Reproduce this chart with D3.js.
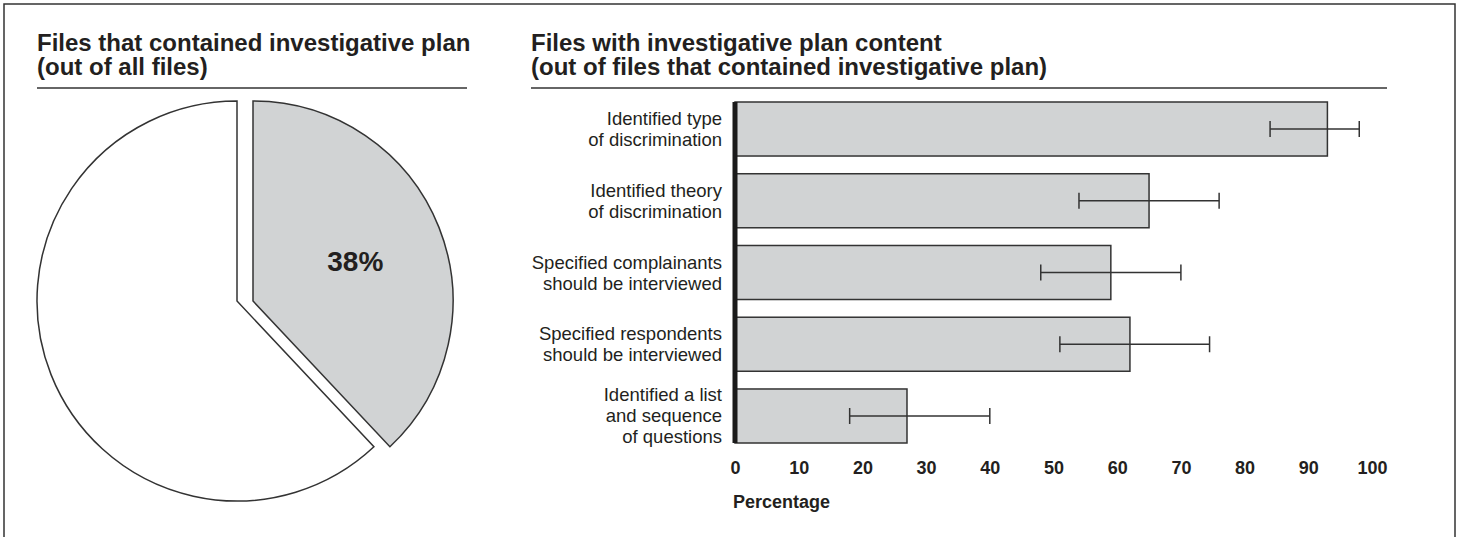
<!DOCTYPE html>
<html>
<head>
<meta charset="utf-8">
<script src="https://cdn.jsdelivr.net/npm/d3@7"></script>
<style>
  html, body { margin: 0; padding: 0; background: #fff; }
  svg { display: block; font-family: "Liberation Sans", Arial, Helvetica, sans-serif; }
</style>
</head>
<body>
<svg id="chart" width="1459" height="537"></svg>
<script>
// ---- data ----
const pieCategories = ["Contained investigative plan", "Did not contain investigative plan"];
const pieValues = [38, 62];
const pieLabel = "38%";

const categories = [
  "Identified type\nof discrimination",
  "Identified theory\nof discrimination",
  "Specified complainants\nshould be interviewed",
  "Specified respondents\nshould be interviewed",
  "Identified a list\nand sequence\nof questions"
];
const values = [93, 65, 59, 62, 27];
const errLow = [84, 54, 48, 51, 18];
const errHigh = [98, 76, 70, 74.5, 40];
const tickValues = [0, 10, 20, 30, 40, 50, 60, 70, 80, 90, 100];

const leftTitle = ["Files that contained investigative plan", "(out of all files)"];
const rightTitle = ["Files with investigative plan content", "(out of files that contained investigative plan)"];
const xAxisTitle = "Percentage";

// ---- styles ----
const ink = "#231f20";
const grayFill = "#d1d3d4";

const svg = d3.select("#chart");

// outer frame (open at bottom, runs off page)
svg.append("path")
  .attr("d", "M4,545 L4,4 L1455,4 L1455,545")
  .attr("fill", "none").attr("stroke", "#333").attr("stroke-width", 1.5);

// titles
function title(x, lines, x2) {
  const t = svg.append("text").attr("x", x).attr("y", 51)
    .attr("font-size", 24).attr("font-weight", "bold").attr("fill", ink);
  lines.forEach((l, i) => t.append("tspan").attr("x", x).attr("dy", i === 0 ? 0 : 24).text(l));
  svg.append("line").attr("x1", x).attr("x2", x2).attr("y1", 88).attr("y2", 88)
    .attr("stroke", "#333").attr("stroke-width", 1.5);
}
title(37, leftTitle, 467);
title(531, rightTitle, 1387);

// ---- pie ----
const cx = 237, cy = 301, r = 200;
const pie = d3.pie().sort(null).value(d => d)(pieValues);
const arc = d3.arc().innerRadius(0).outerRadius(r);
const labelArc = d3.arc().innerRadius(0).outerRadius(r * 1.1);
const explode = [[16, 0], [0, 0]];

const pg = svg.append("g").attr("transform", `translate(${cx},${cy})`);
pg.selectAll("path.slice").data(pie).join("path")
  .attr("class", "slice")
  .attr("d", arc)
  .attr("transform", (d, i) => `translate(${explode[i][0]},${explode[i][1]})`)
  .attr("fill", (d, i) => i === 0 ? grayFill : "#fff")
  .attr("stroke", "#333").attr("stroke-width", 1.5).attr("stroke-linejoin", "miter");

const c = labelArc.centroid(pie[0]);
pg.append("text")
  .attr("x", c[0] + explode[0][0]).attr("y", c[1] + explode[0][1] + 10)
  .attr("text-anchor", "middle").attr("font-size", 28).attr("font-weight", "bold")
  .attr("fill", ink).text(pieLabel);

// ---- bars ----
const x = d3.scaleLinear().domain([0, 100]).range([735, 1372]);
const y = d3.scaleBand().domain(categories).range([102, 443]).paddingInner(0.247).paddingOuter(0);

const bg = svg.append("g");
bg.selectAll("rect.bar").data(values).join("rect")
  .attr("class", "bar")
  .attr("x", x(0))
  .attr("y", (d, i) => y(categories[i]))
  .attr("width", d => x(d) - x(0))
  .attr("height", y.bandwidth())
  .attr("fill", grayFill).attr("stroke", "#333").attr("stroke-width", 1.5);

// error bars
const capH = 8;
const eg = svg.append("g").attr("stroke", "#333").attr("stroke-width", 1.5);
categories.forEach((cat, i) => {
  const yc = y(cat) + y.bandwidth() / 2;
  eg.append("line").attr("x1", x(errLow[i])).attr("x2", x(errHigh[i])).attr("y1", yc).attr("y2", yc);
  eg.append("line").attr("x1", x(errLow[i])).attr("x2", x(errLow[i])).attr("y1", yc - capH).attr("y2", yc + capH);
  eg.append("line").attr("x1", x(errHigh[i])).attr("x2", x(errHigh[i])).attr("y1", yc - capH).attr("y2", yc + capH);
});

// thick baseline
svg.append("line").attr("x1", x(0)).attr("x2", x(0)).attr("y1", 102).attr("y2", 443)
  .attr("stroke", "#1a1a1a").attr("stroke-width", 5);

// category labels
categories.forEach(cat => {
  const lines = cat.split("\n");
  const yc = y(cat) + y.bandwidth() / 2;
  const t = svg.append("text").attr("text-anchor", "end").attr("font-size", 18.5).attr("fill", ink);
  lines.forEach((l, j) => {
    t.append("tspan").attr("x", 722)
      .attr("y", yc + 6.5 - (lines.length - 1) * 21 / 2 + j * 21)
      .text(l);
  });
});

// x axis
const ax = svg.append("g").attr("transform", "translate(0,443)")
  .call(d3.axisBottom(x).tickValues(tickValues).tickSize(0).tickPadding(18).tickFormat(d3.format("d")));
ax.select(".domain").remove();
ax.selectAll("text").attr("font-size", 18).attr("font-weight", "bold").attr("fill", ink)
  .attr("font-family", "'Liberation Sans', Arial, sans-serif");

svg.append("text").attr("x", 733).attr("y", 508)
  .attr("font-size", 18).attr("font-weight", "bold").attr("fill", ink).text(xAxisTitle);
</script>
</body>
</html>
